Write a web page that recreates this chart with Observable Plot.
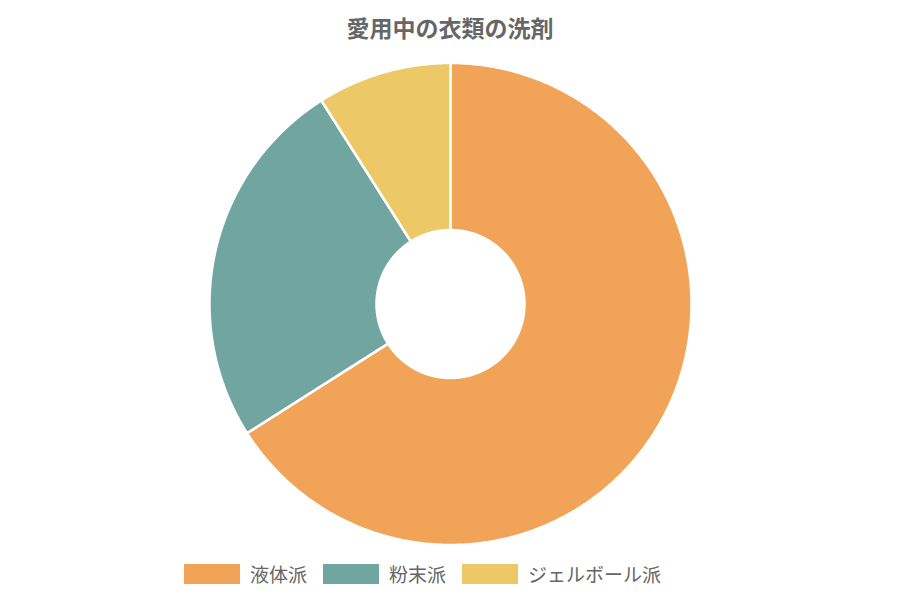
<!DOCTYPE html>
<html>
<head>
<meta charset="utf-8">
<script src="https://cdn.jsdelivr.net/npm/d3@7"></script>
<script src="https://cdn.jsdelivr.net/npm/@observablehq/plot@0.6"></script>
<style>
  body { margin: 0; background: #fff; font-family: "Noto Sans CJK JP", "Noto Sans", sans-serif; }
  #wrap { width: 900px; height: 600px; position: relative; }
  #title { height: 50px; line-height: 55px; text-align: center; font-size: 23px; font-weight: bold; color: #666; }
  #legend { display: flex; align-items: center; margin-top: 14px; padding-left: 184px; height: 20px; }
  .item { display: flex; align-items: center; margin-right: 16px; font-size: 19px; line-height: 20px; color: #666; }
  .sw { width: 56px; height: 20px; margin-right: 10px; }
</style>
</head>
<body>
<div id="wrap">
  <div id="title">愛用中の衣類の洗剤</div>
  <div id="chart"></div>
  <div id="legend"></div>
</div>
<script>
const title = "愛用中の衣類の洗剤";
const categories = ["液体派", "粉末派", "ジェルボール派"];
const values = [66, 25, 9];
const colors = ["#F1A357", "#71A6A0", "#EDC867"];

const innerRatio = 74 / 241;
const pie = d3.pie().sort(null).value(d => d.value)(categories.map((c, i) => ({category: c, value: values[i]})));

// build closed arc outlines (geometry only) for each slice
const rows = [];
for (const s of pie) {
  const n = Math.max(8, Math.ceil((s.endAngle - s.startAngle) / 0.01));
  const pts = [];
  for (let k = 0; k <= n; k++) {
    const a = s.startAngle + (s.endAngle - s.startAngle) * k / n;
    pts.push([Math.sin(a), Math.cos(a)]);
  }
  for (let k = n; k >= 0; k--) {
    const a = s.startAngle + (s.endAngle - s.startAngle) * k / n;
    pts.push([innerRatio * Math.sin(a), innerRatio * Math.cos(a)]);
  }
  pts.push(pts[0]);
  for (const [x, y] of pts) rows.push({category: s.data.category, x, y});
}

const chart = Plot.plot({
  width: 900,
  height: 500,
  marginLeft: 209,
  marginRight: 209,
  marginTop: 12.5,
  marginBottom: 5.5,
  x: {domain: [-1, 1], axis: null},
  y: {domain: [-1, 1], axis: null},
  color: {domain: categories, range: colors},
  marks: [
    Plot.line(rows, {x: "x", y: "y", z: "category", fill: "category", stroke: "white", strokeWidth: 2.5, strokeLinejoin: "round", curve: "linear"})
  ]
});
document.getElementById("chart").appendChild(chart);

const legend = document.getElementById("legend");
categories.forEach((c, i) => {
  const item = document.createElement("div");
  item.className = "item";
  const sw = document.createElement("div");
  sw.className = "sw";
  sw.style.background = colors[i];
  const t = document.createElement("span");
  t.textContent = c;
  item.appendChild(sw);
  item.appendChild(t);
  legend.appendChild(item);
});
</script>
</body>
</html>
